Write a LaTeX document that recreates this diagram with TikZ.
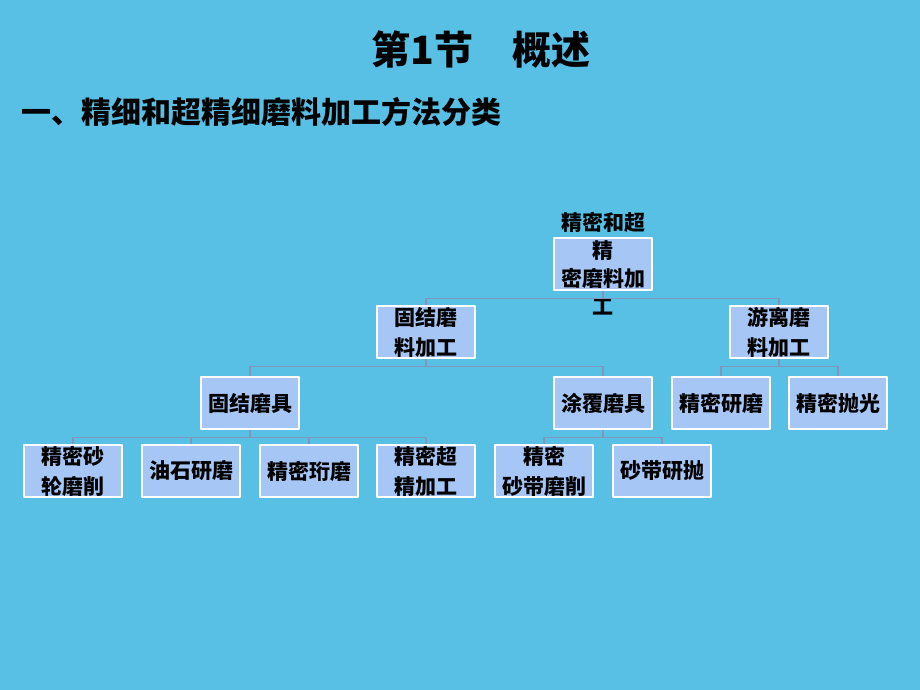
\documentclass[tikz,border=0pt]{standalone}
\usepackage{fontspec}
\setmainfont{Noto Sans CJK SC}
\definecolor{sky}{RGB}{88,192,228}
\definecolor{boxblue}{RGB}{166,198,246}
\definecolor{linkgray}{RGB}{128,150,188}
\begin{document}
\begin{tikzpicture}[x=1pt,y=-1pt,line join=round,
	box/.style={draw=white,line width=1.5pt,fill=boxblue,minimum width=98pt,minimum height=52pt,inner sep=0pt,align=center,font=\fontsize{21}{30}\selectfont\bfseries},
	link/.style={draw=linkgray,line width=1.4pt}]
	\fill[sky] (0,0) rectangle (920,690);
	\useasboundingbox (0,0) rectangle (920,690);
	\node[font=\fontsize{39}{44}\selectfont\bfseries] (title) at (481,50) {第1节\quad 概述};
	\node[anchor=west,font=\fontsize{30}{34}\selectfont\bfseries] (sub) at (18,112) {一、精细和超精细磨料加工方法分类};
	% tree
	\node[box] (root) at (603,264) {};
	\node[font=\fontsize{21}{28}\selectfont\bfseries,align=center] (rootlbl) at (root.center) {精密和超\\精\\密磨料加\\工};
	\node[box] (gj) at (426,332) {固结磨\\料加工};
	\node[box] (yl) at (779,332) {游离磨\\料加工};
	\node[box] (gjmj) at (250,403) {固结磨具};
	\node[box] (tfmj) at (603,403) {涂覆磨具};
	\node[box] (jmym) at (721,403) {精密研磨};
	\node[box] (jmpg) at (838,403) {精密抛光};
	\node[box] (slmx) at (73,471) {精密砂\\轮磨削};
	\node[box] (ysym) at (191,471) {油石研磨};
	\node[box] (jmhm) at (309,471) {精密珩磨};
	\node[box] (jmcj) at (426,471) {精密超\\精加工};
	\node[box] (sdmx) at (544,471) {精密\\砂带磨削};
	\node[box] (sdyp) at (662,471) {砂带研抛};
	\foreach \p/\c in {root/gj,root/yl,gj/gjmj,gj/tfmj,yl/jmym,yl/jmpg,gjmj/slmx,gjmj/ysym,gjmj/jmhm,gjmj/jmcj,tfmj/sdmx,tfmj/sdyp}
		\draw[link] (\p.south) -- ++(0,7.5) -| (\c.north);
\end{tikzpicture}
\end{document}
